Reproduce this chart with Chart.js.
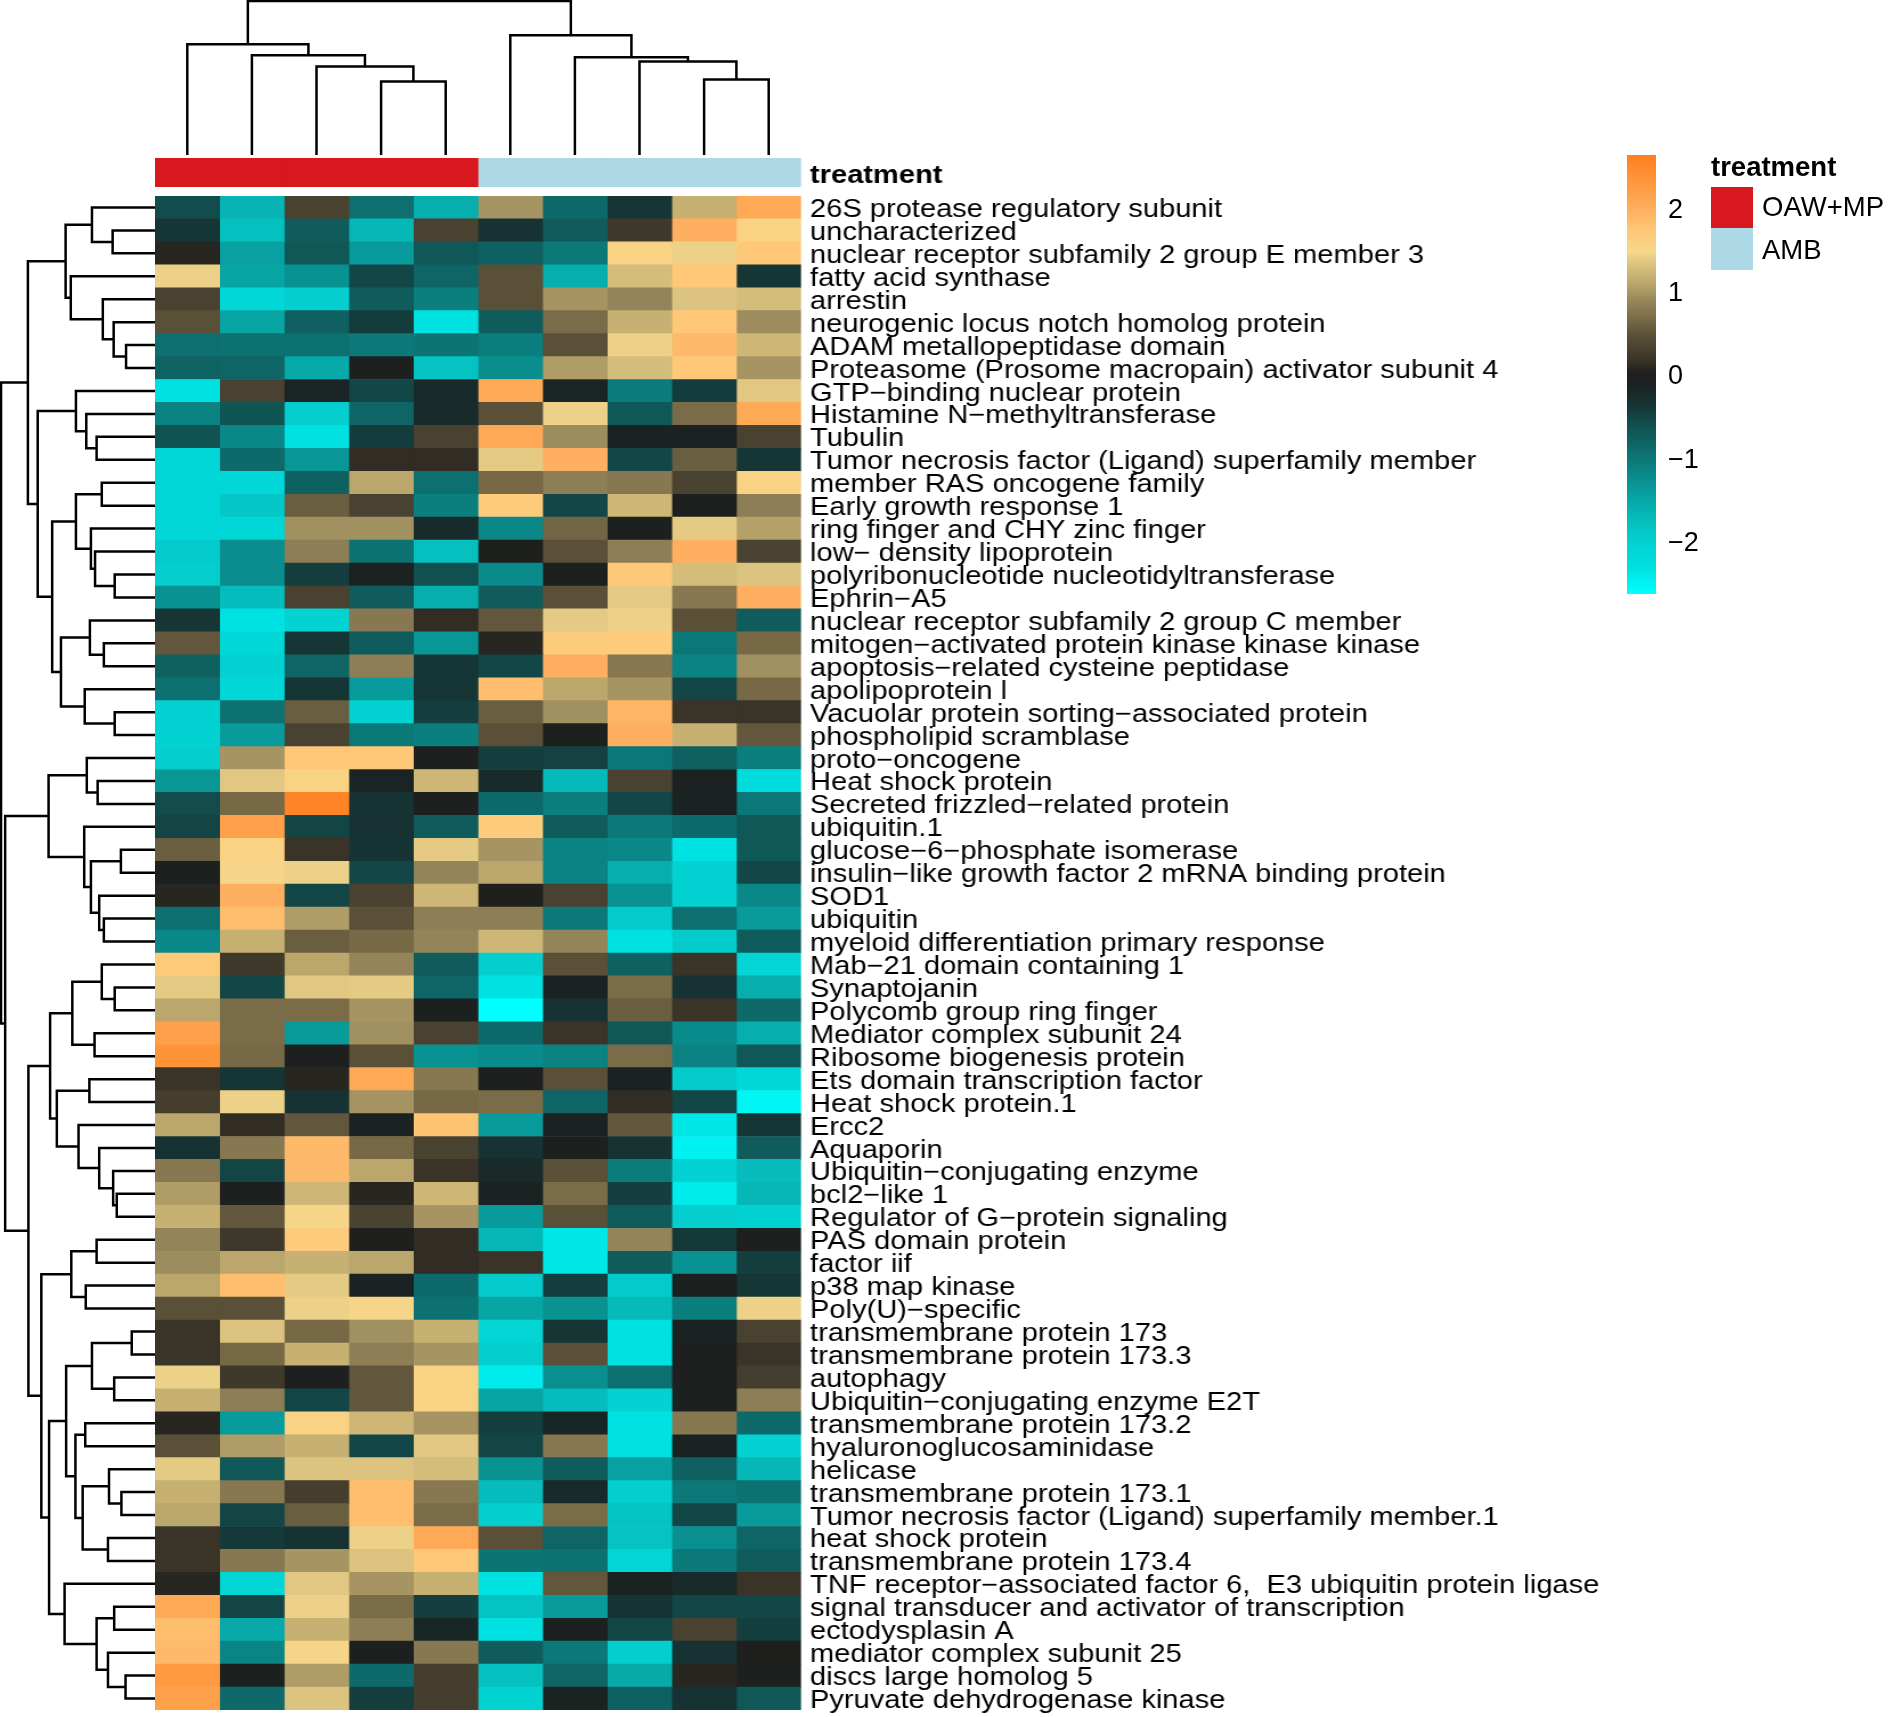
<!DOCTYPE html>
<html>
<head>
<meta charset="utf-8">
<script src="https://cdn.jsdelivr.net/npm/chart.js@4.4.1/dist/chart.umd.min.js"></script>
<style>
body{margin:0;background:#fff;width:1890px;height:1717px;position:relative;overflow:hidden;font-family:"Liberation Sans",Arial,sans-serif}
canvas{position:absolute}
.leg{position:absolute;color:#000;font-size:27.5px;line-height:28px;white-space:nowrap}
.sw{position:absolute;left:1711px;width:42px}
</style>
</head>
<body>
<canvas id="colTree"></canvas>
<canvas id="rowTree"></canvas>
<canvas id="treat"></canvas>
<canvas id="heat"></canvas>
<canvas id="scale"></canvas>
<div class="leg" style="left:1711px;top:153px;font-weight:bold">treatment</div>
<div class="sw" style="top:187px;height:41px;background:#d7191f"></div>
<div class="sw" style="top:228px;height:42px;background:#add8e6"></div>
<div class="leg" style="left:1762px;top:193px">OAW+MP</div>
<div class="leg" style="left:1762px;top:236px">AMB</div>
<script>
/* DATA */
const rowLabels = [
  "26S protease regulatory subunit","uncharacterized","nuclear receptor subfamily 2 group E member 3",
  "fatty acid synthase","arrestin","neurogenic locus notch homolog protein","ADAM metallopeptidase domain",
  "Proteasome (Prosome macropain) activator subunit 4","GTP\u2212binding nuclear protein",
  "Histamine N\u2212methyltransferase","Tubulin","Tumor necrosis factor (Ligand) superfamily member",
  "member RAS oncogene family","Early growth response 1","ring finger and CHY zinc finger",
  "low\u2212 density lipoprotein","polyribonucleotide nucleotidyltransferase","Ephrin\u2212A5",
  "nuclear receptor subfamily 2 group C member","mitogen\u2212activated protein kinase kinase kinase",
  "apoptosis\u2212related cysteine peptidase","apolipoprotein l","Vacuolar protein sorting\u2212associated protein",
  "phospholipid scramblase","proto\u2212oncogene","Heat shock protein","Secreted frizzled\u2212related protein",
  "ubiquitin.1","glucose\u22126\u2212phosphate isomerase","insulin\u2212like growth factor 2 mRNA binding protein",
  "SOD1","ubiquitin","myeloid differentiation primary response","Mab\u221221 domain containing 1",
  "Synaptojanin","Polycomb group ring finger","Mediator complex subunit 24","Ribosome biogenesis protein",
  "Ets domain transcription factor","Heat shock protein.1","Ercc2","Aquaporin",
  "Ubiquitin\u2212conjugating enzyme","bcl2\u2212like 1","Regulator of G\u2212protein signaling","PAS domain protein",
  "factor iif","p38 map kinase","Poly(U)\u2212specific","transmembrane protein 173","transmembrane protein 173.3",
  "autophagy","Ubiquitin\u2212conjugating enzyme E2T","transmembrane protein 173.2","hyaluronoglucosaminidase",
  "helicase","transmembrane protein 173.1","Tumor necrosis factor (Ligand) superfamily member.1",
  "heat shock protein","transmembrane protein 173.4",
  "TNF receptor\u2212associated factor 6,  E3 ubiquitin protein ligase",
  "signal transducer and activator of transcription","ectodysplasin A","mediator complex subunit 25",
  "discs large homolog 5","Pyruvate dehydrogenase kinase"
];

const sampleNames = ["S1","S2","S3","S4","S5","S6","S7","S8","S9","S10"];
const treatment = ["OAW+MP","OAW+MP","OAW+MP","OAW+MP","OAW+MP","AMB","AMB","AMB","AMB","AMB"];
const treatmentColors = {"OAW+MP":"#d7191f","AMB":"#add8e6"};

const values = [
  [-0.55,-1.6,0.35,-0.9,-1.55,1.0,-0.85,-0.35,1.2,2.1],
  [-0.35,-1.75,-0.7,-1.65,0.35,-0.3,-0.7,0.25,2.0,1.6],
  [0.1,-1.4,-0.65,-1.35,-0.65,-0.75,-1.0,1.6,1.45,1.75],
  [1.45,-1.45,-1.25,-0.5,-0.8,0.5,-1.55,1.3,1.75,-0.35],
  [0.35,-2.1,-1.95,-0.7,-1.05,0.5,1.0,0.9,1.35,1.3],
  [0.5,-1.45,-0.75,-0.4,-2.3,-0.7,0.7,1.2,1.75,0.95],
  [-0.9,-0.92,-0.92,-1.0,-0.95,-1.05,0.5,1.45,1.9,1.25],
  [-0.78,-0.8,-1.5,-0.05,-1.8,-1.2,1.05,1.3,1.75,1.0],
  [-2.3,0.35,-0.12,-0.5,-0.2,2.1,-0.12,-1.02,-0.4,1.38],
  [-1.1,-0.62,-1.95,-0.8,-0.2,0.5,1.45,-0.65,0.7,2.1],
  [-0.6,-1.15,-2.3,-0.4,0.35,2.1,0.95,-0.1,-0.08,0.35],
  [-2.1,-0.85,-1.3,0.15,0.15,1.4,2.0,-0.5,0.6,-0.35],
  [-2.1,-2.1,-0.75,1.12,-0.9,0.68,0.85,0.8,0.35,1.6],
  [-2.1,-1.85,0.6,0.35,-1.05,1.7,-0.5,1.25,0.0,0.85],
  [-2.1,-2.1,0.98,0.98,-0.2,-1.15,0.65,-0.05,1.4,1.08],
  [-1.9,-1.2,0.85,-0.92,-1.75,0.02,0.5,0.85,2.0,0.35],
  [-1.95,-1.2,-0.42,-0.08,-0.58,-1.18,0.0,1.75,1.3,1.35],
  [-1.25,-1.7,0.35,-0.7,-1.55,-0.7,0.5,1.4,0.8,2.0],
  [-0.35,-2.3,-2.0,0.8,0.15,0.55,1.4,1.45,0.5,-0.7],
  [0.55,-2.1,-0.35,-0.7,-1.3,0.1,1.7,1.7,-0.98,0.68],
  [-0.75,-2.0,-0.8,0.85,-0.35,-0.5,2.0,0.8,-1.1,0.98],
  [-0.9,-2.1,-0.35,-1.35,-0.35,1.85,1.12,1.0,-0.5,0.68],
  [-2.0,-0.92,0.6,-2.0,-0.42,0.6,0.98,1.95,0.2,0.2],
  [-2.0,-1.35,0.35,-1.0,-1.05,0.5,-0.05,2.0,1.2,0.55],
  [-1.95,1.0,1.75,1.75,0.0,-0.42,-0.45,-0.98,-0.75,-1.05],
  [-1.3,1.38,1.6,-0.12,1.25,-0.2,-1.68,0.35,-0.08,-2.2],
  [-0.55,0.68,2.6,-0.32,0.0,-0.85,-1.05,-0.5,-0.1,-0.98],
  [-0.48,2.2,-0.48,-0.3,-0.7,1.7,-0.7,-1.0,-0.85,-0.65],
  [0.6,1.6,0.2,-0.32,1.4,1.0,-1.1,-1.15,-2.3,-0.65],
  [-0.05,1.55,1.45,-0.5,0.9,1.12,-1.1,-1.55,-2.0,-0.5],
  [0.1,2.0,-0.5,0.35,1.25,0.05,0.35,-1.25,-2.0,-1.15],
  [-0.9,1.85,1.05,0.5,0.85,0.85,-1.0,-1.9,-0.9,-1.35],
  [-1.15,1.2,0.6,0.68,0.9,1.25,0.9,-2.3,-1.9,-0.7],
  [1.72,0.25,1.12,0.9,-0.7,-1.95,0.5,-0.75,0.2,-2.05],
  [1.4,-0.5,1.38,1.4,-0.8,-2.3,-0.1,0.7,-0.3,-1.55],
  [1.12,0.7,0.7,1.0,-0.05,-2.6,-0.3,0.6,0.2,-0.85],
  [2.2,0.7,-1.35,0.98,0.35,-0.85,0.2,-0.65,-1.18,-1.55],
  [2.4,0.68,0.0,0.5,-1.25,-1.18,-1.1,0.7,-1.1,-0.65],
  [0.2,-0.35,0.1,2.1,0.8,0.0,0.5,-0.1,-1.9,-2.1],
  [0.3,1.45,-0.3,1.0,0.68,0.7,-0.8,0.15,-0.5,-2.5],
  [1.12,0.15,0.55,-0.1,1.8,-1.35,-0.1,0.55,-2.35,-0.35],
  [-0.3,0.8,1.9,0.68,0.35,-0.3,-0.05,-0.3,-2.45,-0.7],
  [0.8,-0.48,1.9,1.12,0.2,-0.2,0.5,-1.02,-2.0,-1.7],
  [1.05,0.0,1.25,0.1,1.25,-0.1,0.7,-0.42,-2.4,-1.65],
  [1.2,0.55,1.55,0.35,1.0,-1.35,0.5,-0.7,-1.95,-2.0],
  [0.9,0.25,1.7,0.05,0.15,-1.65,-2.35,0.9,-0.38,0.0],
  [0.95,1.12,1.2,1.12,0.15,0.2,-2.35,-0.7,-1.25,-0.42],
  [1.12,1.85,1.4,-0.1,-0.85,-1.9,-0.42,-1.9,-0.05,-0.35],
  [0.5,0.5,1.45,1.55,-0.92,-1.45,-1.25,-1.68,-1.05,1.45],
  [0.2,1.35,0.68,0.98,1.2,-2.05,-0.35,-2.3,-0.1,0.35],
  [0.2,0.68,1.2,0.85,1.0,-1.95,0.5,-2.3,0.0,0.2],
  [1.45,0.25,0.0,0.55,1.6,-2.4,-1.22,-0.92,0.0,0.3],
  [1.2,0.85,-0.5,0.55,1.6,-1.45,-1.7,-2.0,-0.05,0.85],
  [0.1,-1.35,1.6,1.25,1.0,-0.42,-0.15,-2.3,0.8,-0.85],
  [0.5,1.05,1.2,-0.5,1.38,-0.48,0.8,-2.3,-0.1,-2.0],
  [1.4,-0.65,1.35,1.35,1.3,-1.25,-0.7,-1.4,-0.75,-1.65],
  [1.2,0.8,0.3,1.85,0.8,-1.7,-0.2,-1.95,-1.0,-0.92],
  [1.12,-0.48,0.6,1.85,0.7,-1.95,0.7,-1.8,-0.5,-1.35],
  [0.2,-0.38,-0.3,1.45,2.1,0.5,-0.8,-1.8,-1.22,-0.8],
  [0.2,0.8,1.0,1.35,1.75,-0.95,-0.92,-2.05,-1.0,-0.7],
  [0.1,-2.05,1.38,1.0,1.2,-2.3,0.55,-0.1,-0.2,0.2],
  [2.1,-0.48,1.45,0.7,-0.42,-1.8,-1.35,-0.32,-0.5,-0.5],
  [1.85,-1.5,1.2,0.85,-0.15,-2.3,-0.05,-0.48,0.35,-0.42],
  [1.9,-1.12,1.55,0.0,0.8,-0.7,-1.0,-1.95,-0.3,0.05],
  [2.3,-0.05,1.05,-0.85,0.3,-1.75,-0.8,-1.5,0.1,-0.05],
  [2.2,-0.85,1.35,-0.42,0.3,-2.0,-0.1,-0.75,-0.3,-0.65]
];

/* dendrograms, hclust style: negative = leaf, positive = earlier merge */
const colMerges = [[-4,-5],[-9,-10],[-3,1],[-8,2],[-7,4],[-2,3],[-1,6],[-6,5],[7,8]];
const colHeights = [73,75,88,93,97,99,110,119,153];

const rowMerges = [
  [-2,-3],[-1,1],[-7,-8],[-6,3],[-5,4],[-4,5],[2,6],[-11,-12],[-10,8],[-9,9],
  [-13,-14],[-17,-18],[-16,12],[-15,13],[11,14],[-20,-21],[-19,16],[-23,-24],[-22,18],[17,19],
  [15,20],[10,21],[7,22],[-26,-27],[-25,24],[-29,-30],[-32,-33],[-31,27],[26,28],[-28,29],
  [25,30],[-35,-36],[-34,32],[-37,-38],[33,34],[-39,-40],[-44,-45],[-43,37],[-42,38],[-41,39],
  [36,40],[35,41],[-46,-47],[-48,-49],[43,44],[-50,-51],[-52,-53],[46,47],[-54,-55],[-57,-58],
  [-56,50],[-59,-60],[51,52],[49,53],[48,54],[-65,-66],[-64,56],[-62,-63],[58,57],[-61,59],
  [55,60],[45,61],[42,62],[31,63],[23,64]
];
const rowHeights = [
  82,122,56,80,101,163,173,113,133,153,
  103,78,116,124,153,99,126,78,136,182,
  199,227,246,111,132,66,99,108,124,137,
  206,78,103,117,160,127,74,81,108,148,
  190,203,113,134,162,45,79,122,135,65,
  89,91,140,154,172,57,91,79,113,175,
  205,220,245,290,298
];

const scaleRange = [-2.6, 2.66];
const scaleTicks = [-2,-1,0,1,2];

/* COLOUR RAMP */
const stopValues = [-2.6,-2.3,-2.0,-1.7,-1.4,-1.15,-0.85,-0.6,-0.35,-0.1,0.05,0.2,0.5,0.7,0.9,1.1,1.3,1.5,1.75,2.0,2.3,2.66];
const stopColors = ["#00ffff","#00e2e2","#03d2d2","#06bcbc","#08a0a0","#0a8888","#0e6a6a","#115252","#163636","#1a2222",
  "#1f1f1d","#3a3428","#5a5038","#7a6c48","#94845a","#b8a46a","#d4bc7a","#f5d88c","#fec878","#feb060","#ff9a40","#ff7f1f"];

function hexRgb(h){ return [1,3,5].map(i=>parseInt(h.slice(i,i+2),16)); }

function valueColor(v){
  if(v<=stopValues[0]) return stopColors[0];
  for(let i=1;i<stopValues.length;i++){
    if(v<=stopValues[i]){
      const t=(v-stopValues[i-1])/(stopValues[i]-stopValues[i-1]);
      const a=hexRgb(stopColors[i-1]), b=hexRgb(stopColors[i]);
      return "rgb("+a.map((c,k)=>Math.round(c+(b[k]-c)*t)).join(",")+")";
    }
  }
  return stopColors[stopColors.length-1];
}

/* LAYOUT HELPERS */
const FONT = "'Liberation Sans', Arial, sans-serif";
const STRETCH = 1.14;   // labels in the figure are drawn wider than normal
const HM = {left:155, top:196, width:646, height:1514};

function place(id,left,top,w,h,stretch){
  const c=document.getElementById(id);
  c.width=w; c.height=h;
  c.style.left=left+"px"; c.style.top=top+"px";
  c.style.width=w+"px"; c.style.height=h+"px";
  if(stretch){ c.style.transformOrigin="0 0"; c.style.transform="scaleX("+stretch+")"; }
  return c;
}

function treeSegments(merges,heights){
  const pos=[], segs=[];
  const node=r=> r<0 ? {p:-r-0.5,h:0} : {p:pos[r-1],h:heights[r-1]};
  merges.forEach(([a,b],i)=>{
    const A=node(a), B=node(b), h=heights[i];
    segs.push([[A.p,A.h],[A.p,h],[B.p,h],[B.p,B.h]]);
    pos.push((A.p+B.p)/2);
  });
  return segs;
}

const base = {responsive:false, animation:false, events:[],
  plugins:{legend:{display:false}, tooltip:{enabled:false}}};

/* COLUMN DENDROGRAM */
new Chart(place("colTree",HM.left,0,HM.width,155),{
  type:"scatter",
  data:{datasets:treeSegments(colMerges,colHeights).map(s=>({
    data:s.map(([p,h])=>({x:p,y:h})), showLine:true, borderColor:"#000", borderWidth:2.5, pointRadius:0
  }))},
  options:{...base, layout:{padding:0},
    scales:{x:{display:false,min:0,max:sampleNames.length}, y:{display:false,min:0,max:154}}}
});

/* ROW DENDROGRAM */
new Chart(place("rowTree",0,HM.top,HM.left,HM.height),{
  type:"scatter",
  data:{datasets:treeSegments(rowMerges,rowHeights).map(s=>({
    data:s.map(([p,h])=>({x:h,y:p})), showLine:true, borderColor:"#000", borderWidth:2.5, pointRadius:0
  }))},
  options:{...base, layout:{padding:0},
    scales:{x:{display:false,reverse:true,min:0,max:300}, y:{display:false,reverse:true,min:0,max:rowLabels.length}}}
});

/* TREATMENT BAR */
const areaW = HM.width/STRETCH;
const treatPad = 8;
new Chart(place("treat",HM.left,158-treatPad,Math.ceil(areaW+300),29+2*treatPad,STRETCH),{
  type:"bar",
  data:{labels:["treatment"], datasets:sampleNames.map((n,j)=>({
    label:n, data:[1], backgroundColor:treatmentColors[treatment[j]], borderWidth:0,
    barPercentage:1, categoryPercentage:1
  }))},
  options:{...base, indexAxis:"y", layout:{padding:{top:treatPad,bottom:treatPad,left:0,right:0}},
    scales:{
      x:{stacked:true,display:false,min:0,max:sampleNames.length},
      y:{stacked:true,position:"right",grid:{display:false,drawTicks:false},border:{display:false},
        ticks:{color:"#000",padding:9/STRETCH,labelOffset:3,font:{family:FONT,size:25.5,weight:"bold"}},
        afterFit(s){ s.width=Math.ceil(areaW+300)-areaW; s.paddingTop=0; s.paddingBottom=0; }}
    }}
});

/* HEATMAP */
const padTop=12, padBottom=28, heatW=Math.ceil(areaW+760);
new Chart(place("heat",HM.left,HM.top-padTop,heatW,HM.height+padTop+padBottom,STRETCH),{
  type:"bar",
  data:{labels:rowLabels, datasets:sampleNames.map((n,j)=>({
    label:n, data:rowLabels.map(()=>1), backgroundColor:values.map(r=>valueColor(r[j])),
    borderWidth:0, barPercentage:1, categoryPercentage:1
  }))},
  options:{...base, indexAxis:"y", layout:{padding:{top:padTop,bottom:padBottom,left:0,right:0}},
    scales:{
      x:{stacked:true,display:false,min:0,max:sampleNames.length},
      y:{stacked:true,position:"right",grid:{display:false,drawTicks:false},border:{display:false},
        ticks:{autoSkip:false,color:"#000",padding:9/STRETCH,labelOffset:2.5,font:{family:FONT,size:25.5}},
        afterFit(s){ s.width=heatW-areaW; s.paddingTop=0; s.paddingBottom=0; }}
    }}
});

/* COLOUR KEY */
const keyCanvas = place("scale",1627,155,100,439);
new Chart(keyCanvas,{
  type:"bar",
  data:{labels:[""], datasets:[{
    data:[scaleRange], borderWidth:0, borderSkipped:false, barPercentage:1, categoryPercentage:1,
    backgroundColor:(ctx)=>{
      const {chart}=ctx;
      if(!chart.chartArea) return "#888";
      const y=chart.scales.y;
      const g=chart.ctx.createLinearGradient(0,y.getPixelForValue(scaleRange[0]),0,y.getPixelForValue(scaleRange[1]));
      stopValues.forEach((v,i)=>g.addColorStop((v-scaleRange[0])/(scaleRange[1]-scaleRange[0]),stopColors[i]));
      return g;
    }
  }]},
  options:{...base, layout:{padding:0},
    scales:{
      x:{display:false},
      y:{position:"right",min:scaleRange[0],max:scaleRange[1],grid:{display:false,drawTicks:false},border:{display:false},
        afterBuildTicks(s){ s.ticks=scaleTicks.map(v=>({value:v})); },
        ticks:{color:"#000",padding:12,font:{family:FONT,size:27},
          callback:v=>(v<0?"\u2212":"")+Math.abs(v)},
        afterFit(s){ s.width=71; s.paddingTop=0; s.paddingBottom=0; }}
    }}
});
</script>
</body>
</html>
